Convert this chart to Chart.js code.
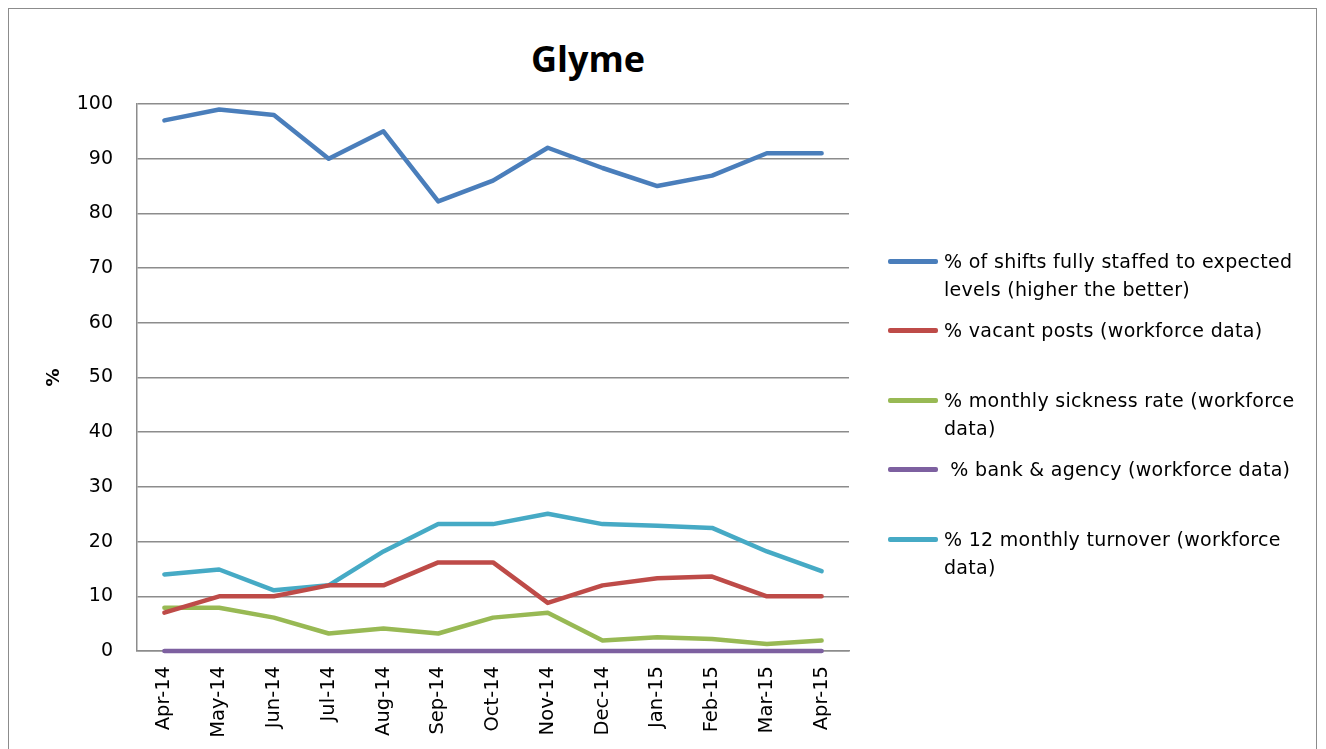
<!DOCTYPE html>
<html>
<head>
<meta charset="utf-8">
<script src="https://cdn.jsdelivr.net/npm/chart.js@4.4.1/dist/chart.umd.min.js"></script>
<style>
  body { margin: 0; background: #fff; font-family: "DejaVu Sans", sans-serif; }
  #wrap { position: relative; width: 1326px; height: 749px; overflow: hidden; }
  #frame { position: absolute; left: 8px; top: 8px; width: 1309px; height: 760px; border: 1.5px solid #8c8c8c; box-sizing: border-box; }
  #title { position: absolute; left: 488px; width: 200px; top: 34px; text-align: center; font-family: "Open Sans", sans-serif; font-size: 36px; font-weight: bold; color: #000; }
  canvas { position: absolute; left: 0; top: 0; }
  #legend { position: absolute; left: 888px; top: 0; }
  .item { position: absolute; left: 0; width: 430px; }
  .swatch { position: absolute; left: 0; width: 50px; height: 4.5px; border-radius: 2px; }
  .txt { position: absolute; left: 56px; width: 370px; font-size: 19px; letter-spacing: 0.3px; line-height: 28px; color: #000; white-space: pre-wrap; }
</style>
</head>
<body>
<div id="wrap">
  <div id="frame"></div>
  <div id="title">Glyme</div>
  <canvas id="chart" width="1326" height="749"></canvas>
  <div id="legend"></div>
</div>
<script>
// data
const months = ['Apr-14', 'May-14', 'Jun-14', 'Jul-14', 'Aug-14', 'Sep-14', 'Oct-14',
                'Nov-14', 'Dec-14', 'Jan-15', 'Feb-15', 'Mar-15', 'Apr-15'];
const shiftsStaffed = [97, 99, 98, 90, 95, 82.2, 86, 92, 88.3, 85, 86.9, 91, 91];
const vacantPosts   = [7, 10, 10, 12, 12, 16.2, 16.2, 8.8, 12, 13.3, 13.6, 10, 10];
const sicknessRate  = [7.9, 7.9, 6.1, 3.2, 4.1, 3.2, 6.1, 7, 1.9, 2.5, 2.2, 1.3, 1.9];
const bankAgency    = [0, 0, 0, 0, 0, 0, 0, 0, 0, 0, 0, 0, 0];
const turnover      = [14, 14.9, 11.1, 12, 18.2, 23.2, 23.2, 25.1, 23.2, 22.9, 22.5, 18.2, 14.6];
const yTicks = [0, 10, 20, 30, 40, 50, 60, 70, 80, 90, 100];

const seriesNames = [
    '% of shifts fully staffed to expected levels (higher the better)',
    '% vacant posts (workforce data)',
    '% monthly sickness rate (workforce data)',
    ' % bank & agency (workforce data)',
    '% 12 monthly turnover (workforce data)'
];
const seriesColors = ['#4a7ebb', '#be4b48', '#98b954', '#7d60a0', '#46aac5'];
const legendTops = [247, 316, 386, 455, 525]; // top of each legend text block

const seriesData = [shiftsStaffed, vacantPosts, sicknessRate, bankAgency, turnover];

const datasets = seriesData.map((d, i) => ({
    label: seriesNames[i],
    data: d,
    borderColor: seriesColors[i],
    backgroundColor: seriesColors[i],
    borderWidth: 4.5,
    pointRadius: 0,
    tension: 0,
    borderCapStyle: 'round',
    borderJoinStyle: 'round',
    clip: false
}));

const font = "'DejaVu Sans', sans-serif";

new Chart(document.getElementById('chart'), {
    type: 'line',
    data: { labels: months, datasets: datasets },
    options: {
        responsive: false,
        animation: false,
        layout: { padding: { left: 44, right: 477, top: 104, bottom: 6 } },
        plugins: {
            legend: { display: false },
            tooltip: { enabled: false },
            title: { display: false }
        },
        scales: {
            x: {
                offset: true,
                afterFit: s => { s.height = 92; },
                grid: { display: false, drawTicks: false },
                border: { display: true, color: '#8c8c8c', width: 1.5 },
                ticks: {
                    color: '#000',
                    font: { family: font, size: 19.5 },
                    minRotation: 90,
                    maxRotation: 90,
                    padding: 15,
                    autoSkip: false
                }
            },
            y: {
                min: 0,
                max: 100,
                afterFit: s => { s.width = 93; },
                afterBuildTicks: axis => { axis.ticks = yTicks.map(v => ({ value: v })); },
                grid: { color: '#8c8c8c', lineWidth: 1.5, drawTicks: false },
                border: { display: true, color: '#8c8c8c', width: 1.5 },
                ticks: {
                    color: '#000',
                    font: { family: font, size: 19 },
                    padding: 24
                },
                title: {
                    display: true,
                    text: '%',
                    color: '#000',
                    font: { family: font, size: 18, weight: 'bold' },
                    padding: { top: 0, bottom: 10 }
                }
            }
        }
    }
});

// html legend so the long names can wrap like the original
const legendBox = document.getElementById('legend');
seriesNames.forEach((name, i) => {
    const item = document.createElement('div');
    item.className = 'item';
    item.style.top = legendTops[i] + 'px';
    item.innerHTML = '<div class="swatch" style="top:12px;background:' + seriesColors[i] + '"></div>' +
                     '<div class="txt"></div>';
    item.querySelector('.txt').textContent = name;
    legendBox.appendChild(item);
});
</script>
</body>
</html>
